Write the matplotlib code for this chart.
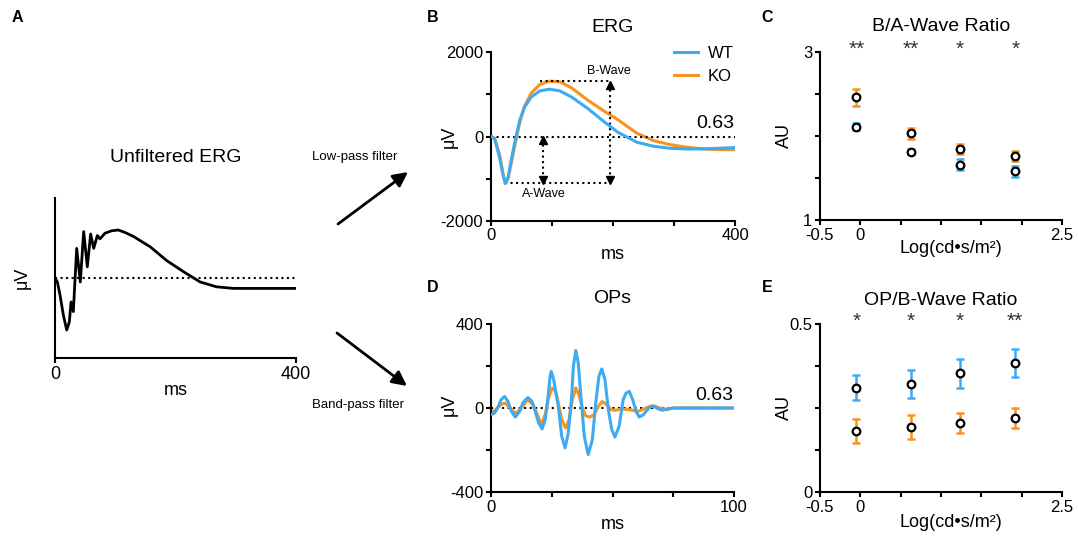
import numpy as np
import matplotlib.pyplot as plt
from matplotlib.patches import FancyArrowPatch

plt.rcParams['font.family'] = ['Liberation Sans', 'DejaVu Sans']

BLUE = '#3DAAF2'
ORANGE = '#F7931E'

# panel A: unfiltered ERG trace (arbitrary units)
a_ms = [0, 3.9, 8.3, 13.8, 19.4, 23.8, 26.6, 30.4, 36, 42, 47.6, 53.6, 59.2, 64.2,
        70.3, 74.7, 83, 94, 105, 116, 130, 158, 185, 213, 241, 268, 296, 400]
a_uv = [0, -0.05, -0.21, -0.46, -0.65, -0.55, -0.30, -0.42, 0.37, -0.05, 0.58, 0.14,
        0.55, 0.37, 0.53, 0.49, 0.56, 0.59, 0.60, 0.57, 0.52, 0.39, 0.22, 0.08,
        -0.05, -0.11, -0.13, -0.13]

# panel B: low-pass ERG
b_ms = [0, 6, 14, 20, 23.5, 28, 33, 39, 47, 55, 66, 80, 96, 113, 132, 159, 186, 208,
        239, 266, 293, 320, 348, 375, 400]
b_wt = [0, -55, -494, -932, -1115, -972, -574, -135, 382, 700, 939, 1083, 1123, 1083,
        939, 661, 343, 100, -135, -231, -279, -295, -295, -279, -263]
b_ko = [0, -40, -430, -900, -1115, -1000, -650, -215, 327, 717, 1035, 1235, 1315, 1300,
        1155, 860, 597, 398, 80, -96, -191, -255, -295, -311, -311]

# panel D: oscillatory potentials
d_wt_ms = [0.1, 1.5, 2.9, 4.2, 5.6, 7, 8.4, 10, 11.8, 13.2, 15.2, 16.9, 18.2, 19.6,
           21, 22.3, 23.5, 24.3, 24.8, 25.8, 26.9, 27.7, 29.1, 30.5, 31.8, 33.2,
           33.9, 34.9, 35.9, 37, 38.4, 40, 41.7, 43.1, 44.4, 45.6, 46.9, 48.3, 49.7,
           51, 52.7, 54.4, 55.6, 56.9, 58.3, 59.7, 61, 62.7, 64.1, 65.7, 67.1, 68.9,
           70.7, 72.3, 75, 100]
d_wt = [-32, -24, 5, 40, 55, 31, -16, -43, -16, 27, 50, 31, -16, -71, -100, -56, 55,
        150, 174, 135, 60, 8, -135, -190, -119, 55, 198, 274, 214, 55, -135, -222,
        -151, 24, 150, 186, 135, -8, -103, -138, -88, 40, 71, 79, 40, -16, -43, -32,
        -11, 8, 8, -5, -11, -5, 0, 0]
d_ko_ms = [0.1, 2.2, 4.2, 5.6, 7.3, 9.1, 10.4, 12.5, 14.5, 15.5, 17.3, 19.1, 20.7,
           22.3, 23.7, 25.1, 26.6, 27.7, 29.1, 30.7, 32.1, 33.5, 34.9, 36.2, 37.6,
           39, 40.7, 42.5, 44.2, 45.8, 47.6, 49.4, 51, 53.8, 57, 60.5, 64.8, 66.8,
           69.5, 72.3, 75, 100]
d_ko = [-24, -5, 16, 24, 8, -16, -24, 0, 31, 35, 16, -32, -79, -32, 48, 95, 79, 24,
        -56, -95, -56, 40, 95, 63, 0, -37, -43, -32, 8, 31, 16, -8, -11, -5, -8, -16,
        5, 11, 0, -8, 0, 0]

# panels C and E: ratios vs flash intensity
lum = [-0.05, 0.63, 1.23, 1.92]
c_wt = [2.11, 1.81, 1.66, 1.58]
c_wt_err = [0.04, 0.03, 0.07, 0.065]
c_ko = [2.46, 2.03, 1.85, 1.76]
c_ko_err = [0.10, 0.065, 0.06, 0.056]
c_stars = ['**', '**', '*', '*']
e_wt = [0.311, 0.322, 0.353, 0.385]
e_wt_err = [0.038, 0.042, 0.042, 0.042]
e_ko = [0.182, 0.193, 0.205, 0.220]
e_ko_err = [0.035, 0.036, 0.030, 0.031]
e_stars = ['*', '*', '*', '**']

W, H = 1078, 541
fig = plt.figure(figsize=(W / 100, H / 100), dpi=100)


def px_axes(l, t, r, b):
    return fig.add_axes([l / W, 1 - b / H, (r - l) / W, (b - t) / H])


def style(ax):
    for s in ['top', 'right']:
        ax.spines[s].set_visible(False)
    for s in ['left', 'bottom']:
        ax.spines[s].set_linewidth(1.5)
    ax.tick_params(direction='out', length=3.6, width=1.5, labelsize=12, pad=2)


TS = 14
LS = 13

# ---- A
axA = px_axes(55, 198, 296, 358)
style(axA)
axA.plot(a_ms, a_uv, color='black', lw=2)
axA.axhline(0, color='black', ls=':', lw=1.5)
axA.set_xlim(0, 400)
axA.set_ylim(-1, 1)
axA.set_xticks([0, 400])
axA.set_yticks([])
axA.tick_params(labelsize=13)
axA.set_title('Unfiltered ERG', fontsize=TS, pad=26)
axA.set_xlabel('ms', fontsize=LS, va='center')
axA.xaxis.set_label_coords(0.5, -0.206)
axA.set_ylabel('μV', fontsize=LS, va='center')
axA.yaxis.set_label_coords(-0.137, 0.5)

# ---- B
axB = px_axes(491, 52.3, 735, 220.7)
style(axB)
axB.plot(b_ms, b_wt, color=BLUE, lw=2.2, label='WT', zorder=3)
axB.plot(b_ms, b_ko, color=ORANGE, lw=2.2, label='KO', zorder=2)
axB.axhline(0, color='black', ls=':', lw=1.5)
a_min = min(b_wt)
b_max = max(b_ko)
axB.plot([80, 195], [b_max, b_max], color='black', ls=':', lw=1.5)
axB.plot([23, 195], [a_min, a_min], color='black', ls=':', lw=1.5)
axB.plot([195, 195], [b_max - 60, a_min + 60], color='black', ls=':', lw=1.5)
axB.plot([86, 86], [-60, a_min + 60], color='black', ls=':', lw=1.5)
axB.plot([195, 86], [b_max - 90, -90], '^', color='black', ms=5.5)
axB.plot([195, 86], [a_min + 90, a_min + 90], 'v', color='black', ms=5.5)
axB.text(194, 1554, 'B-Wave', fontsize=9, ha='center', va='center')
axB.text(86, -1370, 'A-Wave', fontsize=9, ha='center', va='center')
axB.text(398, 200, '0.63', fontsize=14, ha='right', va='baseline')
axB.set_xlim(0, 400)
axB.set_ylim(-2000, 2000)
axB.set_xticks([0, 100, 200, 300, 400], ['0', '', '', '', '400'])
axB.set_yticks([-2000, -1000, 0, 1000, 2000], ['-2000', '', '0', '', '2000'])
axB.set_title('ERG', fontsize=TS, pad=14.5)
axB.set_xlabel('ms', fontsize=LS, va='center')
axB.xaxis.set_label_coords(0.5, -0.198)
axB.set_ylabel('μV', fontsize=LS, va='center')
axB.yaxis.set_label_coords(-0.172, 0.5)
axB.legend(loc='upper right', bbox_to_anchor=(1.055, 1.125), frameon=False, fontsize=12,
           handlelength=1.4, handletextpad=0.6, labelspacing=0.45)

# ---- D
axD = px_axes(491, 324, 734, 492)
style(axD)
axD.plot(d_wt_ms, d_wt, color=BLUE, lw=2.2, zorder=3)
axD.plot(d_ko_ms, d_ko, color=ORANGE, lw=2.2, zorder=2)
axD.axhline(0, color='black', ls=':', lw=1.5, zorder=1)
axD.text(99.7, 40, '0.63', fontsize=14, ha='right', va='baseline')
axD.set_xlim(0, 100)
axD.set_ylim(-400, 400)
axD.set_xticks([0, 25, 50, 75, 100], ['0', '', '', '', '100'])
axD.set_yticks([-400, -200, 0, 200, 400], ['-400', '', '0', '', '400'])
axD.set_title('OPs', fontsize=TS, pad=15)
axD.set_xlabel('ms', fontsize=LS, va='center')
axD.xaxis.set_label_coords(0.5, -0.196)
axD.set_ylabel('μV', fontsize=LS, va='center')
axD.yaxis.set_label_coords(-0.172, 0.518)


def ratio_panel(ax, wt, wt_err, ko, ko_err, stars, title, pad, xlab_y):
    style(ax)
    ax.errorbar(lum, wt, yerr=wt_err, fmt='none', ecolor=BLUE, elinewidth=1.8,
                capsize=3, capthick=1.8)
    ax.errorbar(lum, ko, yerr=ko_err, fmt='none', ecolor=ORANGE, elinewidth=1.8,
                capsize=3, capthick=1.8)
    ax.plot(lum, wt, 'o', mfc='white', mec='black', mew=1.6, ms=5.5, ls='none')
    ax.plot(lum, ko, 'o', mfc='white', mec='black', mew=1.6, ms=5.5, ls='none')
    for x, s in zip(lum, stars):
        ax.text(x, 0.982, s, transform=ax.get_xaxis_transform(), fontsize=15,
                ha='center', va='baseline', color='#333333')
    ax.set_xlim(-0.5, 2.5)
    ax.set_xticks([-0.5, 0, 0.5, 1, 1.5, 2, 2.5], ['-0.5', '0', '', '', '', '', '2.5'])
    ax.set_title(title, fontsize=TS, pad=pad)
    ax.set_xlabel('Log(cd•s/m²)', fontsize=LS, va='center')
    ax.xaxis.set_label_coords(0.54, xlab_y)
    ax.set_ylabel('AU', fontsize=LS, va='center')
    ax.yaxis.set_label_coords(-0.145, 0.5)


# ---- C
axC = px_axes(820, 52, 1062, 220)
ratio_panel(axC, c_wt, c_wt_err, c_ko, c_ko_err, c_stars, 'B/A-Wave Ratio', 15, -0.167)
axC.set_ylim(1, 3)
axC.set_yticks([1, 1.5, 2, 2.5, 3], ['1', '', '', '', '3'])

# ---- E
axE = px_axes(820, 324, 1062, 492)
ratio_panel(axE, e_wt, e_wt_err, e_ko, e_ko_err, e_stars, 'OP/B-Wave Ratio', 13.7, -0.179)
axE.set_ylim(0, 0.5)
axE.set_yticks([0, 0.125, 0.25, 0.375, 0.5], ['0', '', '', '', '0.5'])


# ---- arrows between panels
def fp(x, y):
    return (x / W, 1 - y / H)


for start, end in [((338, 224), (408, 172)), ((337, 333), (407, 386))]:
    fig.add_artist(FancyArrowPatch(fp(*start), fp(*end), transform=fig.transFigure,
                                   arrowstyle='-|>', mutation_scale=22, lw=2,
                                   color='black', shrinkA=0, shrinkB=0))
fig.text(*fp(355, 157), 'Low-pass filter', fontsize=9.5, ha='center', va='center')
fig.text(*fp(358, 405), 'Band-pass filter', fontsize=9.5, ha='center', va='center')

# panel letters
for letter, x, y in [('A', 17, 18), ('B', 433, 17), ('C', 767, 17), ('D', 433, 288), ('E', 767, 287)]:
    fig.text(*fp(x, y), letter, fontsize=11.5, fontweight='bold', ha='center', va='center')

fig.savefig('out.png', dpi=100)
